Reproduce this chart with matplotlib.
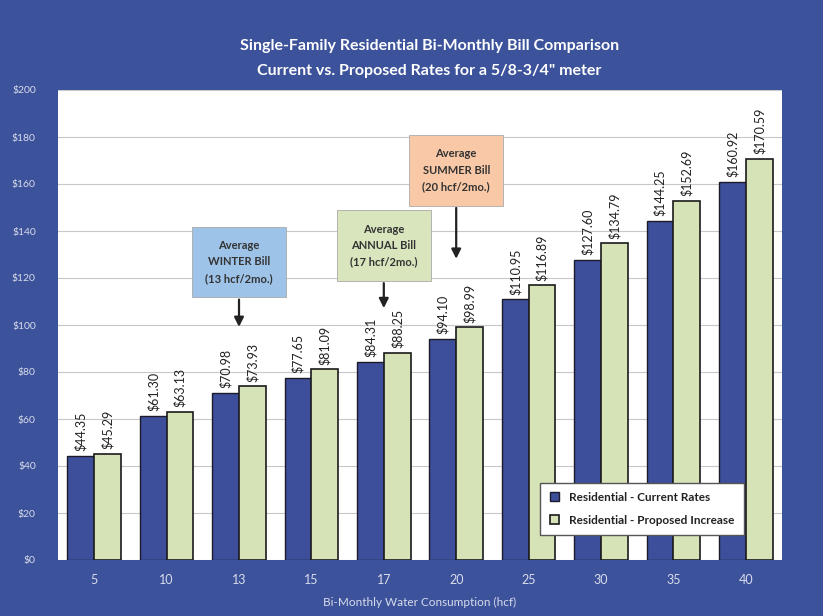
import matplotlib.pyplot as plt
import numpy as np

plt.rcParams['font.family'] = ['Lato', 'DejaVu Sans']

# Bi-monthly consumption (hcf) and bills
usage = ['5', '10', '13', '15', '17', '20', '25', '30', '35', '40']
current_rates = [44.35, 61.30, 70.98, 77.65, 84.31, 94.10, 110.95, 127.60, 144.25, 160.92]
proposed_rates = [45.29, 63.13, 73.93, 81.09, 88.25, 98.99, 116.89, 134.79, 152.69, 170.59]

series_names = ['Residential - Current Rates', 'Residential - Proposed Increase']

# Callouts: (category, text, box colour, box bottom, arrow tip)
callouts = [
    ('13', 'Average\nWINTER Bill\n(13 hcf/2mo.)', '#9ec3e8', 112, 98),
    ('17', 'Average\nANNUAL Bill\n(17 hcf/2mo.)', '#d8e5bd', 119, 106),
    ('20', 'Average\nSUMMER Bill\n(20 hcf/2mo.)', '#f9c8a6', 151, 127),
]

bg_blue = '#3c529a'
bar_blue = '#3d4f9b'
bar_green = '#d5e3b6'

fig = plt.figure(figsize=(8.23, 6.16), dpi=100, facecolor=bg_blue)
ax = fig.add_axes([58 / 823, 56 / 616, 724 / 823, 470 / 616])
ax.set_facecolor('white')

x = np.arange(len(usage))
w = 0.37
b1 = ax.bar(x - w / 2, current_rates, w, color=bar_blue, edgecolor='#1a1a2a', linewidth=1.0,
            label=series_names[0], zorder=3)
b2 = ax.bar(x + w / 2, proposed_rates, w, color=bar_green, edgecolor='#1a1a1a', linewidth=1.2,
            label=series_names[1], zorder=3)

for bars, vals in [(b1, current_rates), (b2, proposed_rates)]:
    for rect, v in zip(bars, vals):
        ax.text(rect.get_x() + rect.get_width() / 2, v + 2, f'${v:.2f}', rotation=90,
                ha='center', va='bottom', fontsize=9, color='#222222', zorder=4)

ax.set_ylim(0, 200)
ax.set_xlim(-0.5, len(usage) - 0.5)
ax.set_yticks(np.arange(0, 201, 20))
ax.set_yticklabels([f'${v}' for v in range(0, 201, 20)])
ax.set_xticks(x)
ax.set_xticklabels(usage)
ax.tick_params(axis='y', colors='#d8dcec', labelsize=7.5, length=0, pad=16)
ax.tick_params(axis='x', colors='#d8dcec', labelsize=9, length=0, pad=10)
ax.grid(axis='y', color='#c8c8c8', linewidth=0.8, zorder=0)
for s in ax.spines.values():
    s.set_visible(False)

ax.set_xlabel('Bi-Monthly Water Consumption (hcf)', color='#d8dcec', fontsize=8.5, labelpad=8)

for cat, txt, col, ybox, ytip in callouts:
    i = usage.index(cat)
    ax.annotate('', xy=(i, ytip), xytext=(i, ybox),
                arrowprops=dict(arrowstyle='-|>', color='#222222', lw=1.6, mutation_scale=14),
                zorder=5)
    ax.text(i, ybox + 5.5, txt, ha='center', va='bottom', fontsize=8, fontweight='bold',
            color='#333333', linespacing=1.6, zorder=6,
            bbox=dict(boxstyle='square,pad=1.2', facecolor=col, edgecolor='#aaaaaa', linewidth=0.6))

leg = ax.legend(loc='lower right', bbox_to_anchor=(0.955, 0.04), fontsize=8.5, frameon=True,
                fancybox=False, edgecolor='#555555', framealpha=1, handlelength=0.8,
                handleheight=0.8, labelspacing=1.0, borderpad=0.8)
for t in leg.get_texts():
    t.set_fontweight('bold')
    t.set_color('#222222')

fig.text(0.522, 0.925, 'Single-Family Residential Bi-Monthly Bill Comparison', ha='center', va='center',
         color='white', fontsize=11.5, fontweight='bold')
fig.text(0.522, 0.885, 'Current vs. Proposed Rates for a 5/8-3/4" meter', ha='center', va='center',
         color='white', fontsize=11.5, fontweight='bold')

fig.savefig('out.png', dpi=100, facecolor=bg_blue)
